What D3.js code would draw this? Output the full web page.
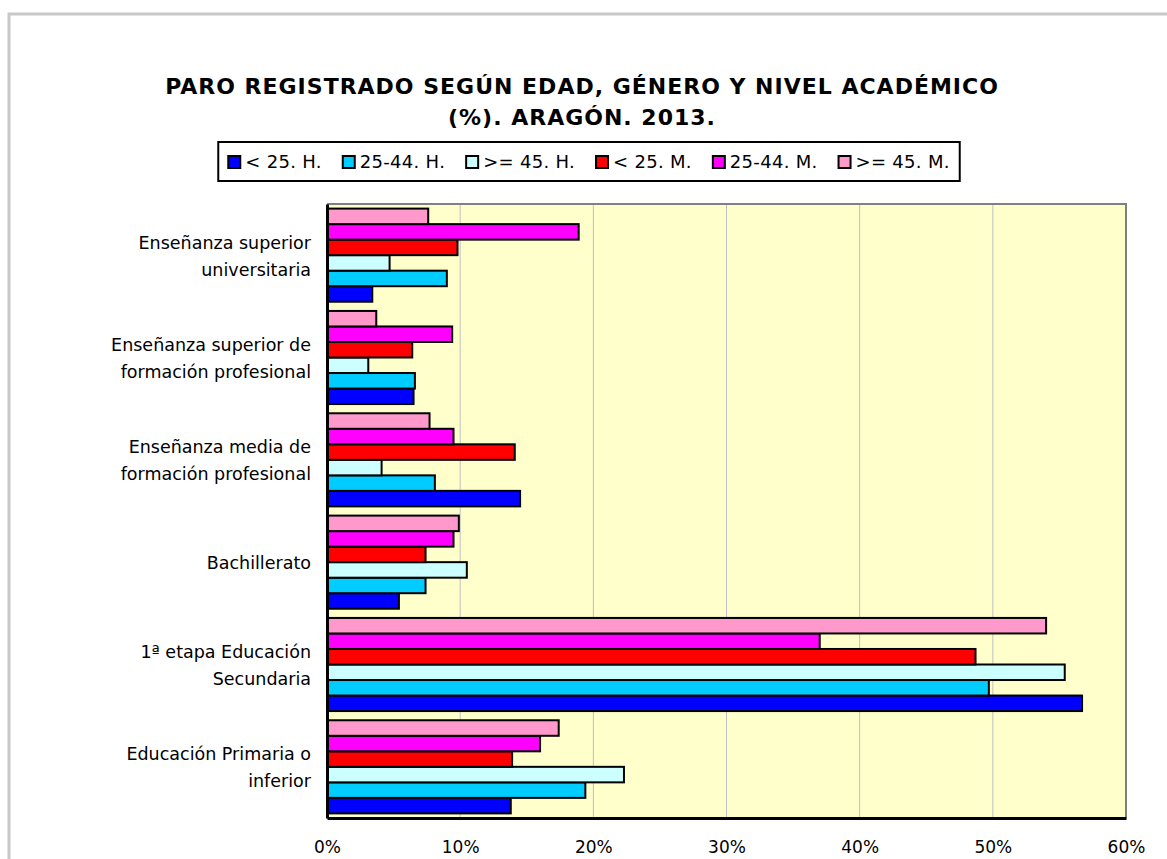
<!DOCTYPE html>
<html>
<head>
<meta charset="utf-8">
<script src="https://cdn.jsdelivr.net/npm/d3@7"></script>
<style>
  body { margin: 0; background: #fff; }
  text { font-family: "DejaVu Sans", Verdana, sans-serif; fill: #000; }
</style>
</head>
<body>
<div id="chart"></div>
<script>
// categories top to bottom, each split into the lines shown
var categories = [
    ["Enseñanza superior", "universitaria"],
    ["Enseñanza superior de", "formación profesional"],
    ["Enseñanza media de", "formación profesional"],
    ["Bachillerato"],
    ["1ª etapa Educación", "Secundaria"],
    ["Educación Primaria o", "inferior"]
];

var seriesNames = ["< 25. H.", "25-44. H.", ">= 45. H.", "< 25. M.", "25-44. M.", ">= 45. M."];
var seriesColors = ["#0000FF", "#00CCFF", "#CCFFFF", "#FF0000", "#FF00FF", "#FF99CC"];

// values (%) per series, same order as categories
var under25H = [3.4, 6.5, 14.5, 5.4, 56.7, 13.8];
var from25to44H = [9.0, 6.6, 8.1, 7.4, 49.7, 19.4];
var over45H = [4.7, 3.1, 4.1, 10.5, 55.4, 22.3];
var under25M = [9.8, 6.4, 14.1, 7.4, 48.7, 13.9];
var from25to44M = [18.9, 9.4, 9.5, 9.5, 37.0, 16.0];
var over45M = [7.6, 3.7, 7.7, 9.9, 54.0, 17.4];

var xTicks = [0, 10, 20, 30, 40, 50, 60];

var seriesValues = [under25H, from25to44H, over45H, under25M, from25to44M, over45M];

var svgWidth = 1167;
var svgHeight = 859;

var margin = { top: 204, right: 41, bottom: 41, left: 327 };
var width = svgWidth - margin.left - margin.right;
var height = svgHeight - margin.top - margin.bottom;

var svg = d3.select("#chart")
    .append("svg")
    .attr("width", svgWidth)
    .attr("height", svgHeight);

// outer chart frame
svg.append("rect")
    .attr("x", 9)
    .attr("y", 14)
    .attr("width", 1300)
    .attr("height", 1000)
    .attr("fill", "none")
    .attr("stroke", "#C8C8C8")
    .attr("stroke-width", 3);

// title
var title = svg.append("text")
    .attr("text-anchor", "middle")
    .attr("font-size", "22px")
    .attr("font-weight", "bold")
    .attr("letter-spacing", "1px");
title.append("tspan").attr("x", 582).attr("y", 94).text("PARO REGISTRADO SEGÚN EDAD, GÉNERO Y NIVEL ACADÉMICO");
title.append("tspan").attr("x", 582).attr("y", 125).text("(%). ARAGÓN. 2013.");

var chartGroup = svg.append("g")
    .attr("transform", `translate(${margin.left}, ${margin.top})`);

var xLinearScale = d3.scaleLinear()
    .domain([0, 60])
    .range([0, width]);

var yBand = d3.scaleBand()
    .domain(d3.range(categories.length))
    .range([0, height])
    .paddingInner(0.09)
    .paddingOuter(0.045);

// series 0 is at the bottom of each group
var yInner = d3.scaleBand()
    .domain(d3.range(seriesNames.length).reverse())
    .range([0, yBand.bandwidth()]);

chartGroup.append("rect")
    .attr("width", width)
    .attr("height", height)
    .attr("fill", "#FFFFCC");

// gridlines
chartGroup.selectAll(".grid")
    .data(xTicks.slice(1, -1))
    .enter()
    .append("line")
    .attr("x1", d => xLinearScale(d))
    .attr("x2", d => xLinearScale(d))
    .attr("y1", 0)
    .attr("y2", height)
    .attr("stroke", "#C0C0C0")
    .attr("stroke-width", 1);

// top and right border
chartGroup.append("path")
    .attr("d", `M0,0H${width}V${height}`)
    .attr("fill", "none")
    .attr("stroke", "#808080")
    .attr("stroke-width", 2);

// bars
var bars = [];
categories.forEach(function(c, ci) {
    seriesValues.forEach(function(vals, si) {
        bars.push({ cat: ci, series: si, value: vals[ci] });
    });
});

chartGroup.selectAll(".bar")
    .data(bars)
    .enter()
    .append("rect")
    .attr("class", "bar")
    .attr("x", 0)
    .attr("y", d => yBand(d.cat) + yInner(d.series))
    .attr("width", d => xLinearScale(d.value))
    .attr("height", yInner.bandwidth())
    .attr("fill", d => seriesColors[d.series])
    .attr("stroke", "#000")
    .attr("stroke-width", 2);

// axes
var bottomAxis = d3.axisBottom(xLinearScale)
    .tickValues(xTicks)
    .tickSize(0)
    .tickPadding(23)
    .tickFormat(d => d + "%");

var xAxisG = chartGroup.append("g")
    .attr("transform", `translate(0, ${height})`)
    .call(bottomAxis);
xAxisG.select(".domain").attr("stroke", "#000").attr("stroke-width", 3);
xAxisG.selectAll("text")
    .attr("font-family", "DejaVu Sans, sans-serif")
    .attr("font-size", "17px")
    .attr("fill", "#000");

var leftAxis = d3.axisLeft(yBand).tickSize(0).tickFormat("");
var yAxisG = chartGroup.append("g").call(leftAxis);
yAxisG.select(".domain").attr("stroke", "#000").attr("stroke-width", 3);

// category labels
var lineHeight = 27;
chartGroup.selectAll(".catLabel")
    .data(categories)
    .enter()
    .append("text")
    .attr("class", "catLabel")
    .attr("text-anchor", "end")
    .attr("font-size", "17.5px")
    .each(function(lines, i) {
        var cy = yBand(i) + yBand.bandwidth() / 2;
        var startY = cy - (lines.length - 1) * lineHeight / 2 + 7;
        d3.select(this).selectAll("tspan")
            .data(lines)
            .enter()
            .append("tspan")
            .attr("x", -16)
            .attr("y", (d, j) => startY + j * lineHeight)
            .text(d => d);
    });

// legend
var legend = svg.append("g");
var legendBox = legend.append("rect")
    .attr("fill", "#fff")
    .attr("stroke", "#000")
    .attr("stroke-width", 2);

var itemGap = 21;
var lx = 0;
var items = legend.selectAll(".item")
    .data(seriesNames)
    .enter()
    .append("g")
    .each(function(name, i) {
        var g = d3.select(this);
        g.append("rect")
            .attr("x", 0)
            .attr("y", -12)
            .attr("width", 12)
            .attr("height", 12)
            .attr("fill", seriesColors[i])
            .attr("stroke", "#000")
            .attr("stroke-width", 2);
        var t = g.append("text")
            .attr("x", 17)
            .attr("y", 0)
            .attr("font-size", "18px")
            .attr("letter-spacing", "0.3px")
            .text(name);
        g.attr("transform", `translate(${lx}, 0)`);
        lx += 17 + t.node().getComputedTextLength() + itemGap;
    });

var contentW = lx - itemGap;
var legendCx = 589;
var startX = legendCx - contentW / 2;
items.attr("transform", function() {
    var tr = d3.select(this).attr("transform");
    var v = +tr.match(/translate\(([-\d.]+)/)[1];
    return `translate(${startX + v}, 168)`;
});
legendBox
    .attr("x", startX - 10)
    .attr("y", 142)
    .attr("width", contentW + 20)
    .attr("height", 39);
</script>
</body>
</html>
